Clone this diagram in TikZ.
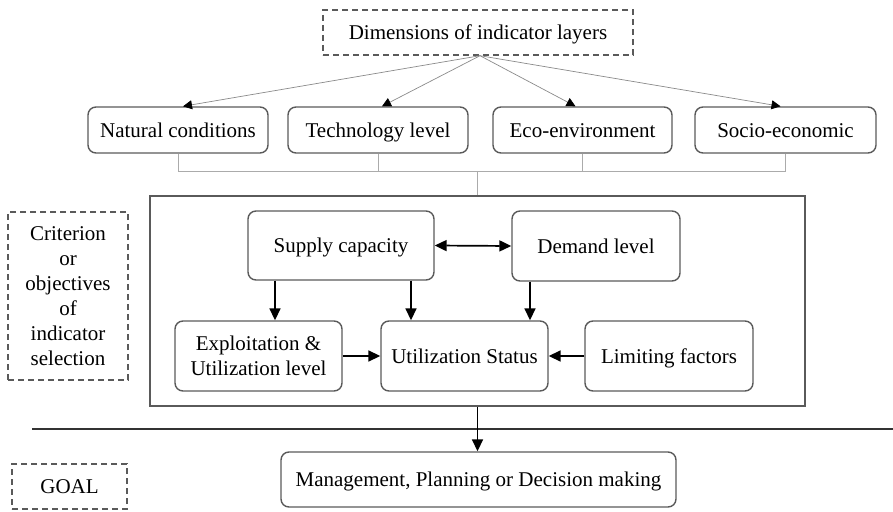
\documentclass[tikz,border=0pt]{standalone}
\usepackage{fontspec}
\setmainfont{Liberation Serif}
\usetikzlibrary{arrows.meta}
\definecolor{boxgray}{HTML}{5A5A5A}
\definecolor{conngray}{HTML}{ABABAB}
\definecolor{thingray}{HTML}{8A8A8A}
\tikzset{
  rboxm/.style={draw=boxgray, line width=1.4pt, rounded corners=8pt, inner sep=0pt, align=center,
    font=\fontsize{21}{25}\selectfont},
  rbox/.style={rboxm, text height=18pt, text depth=4pt},
  dboxm/.style={draw=boxgray, line width=1.4pt, dash pattern=on 6pt off 4pt, inner sep=0pt, align=center,
    font=\fontsize{21}{25}\selectfont},
  dbox/.style={dboxm, text height=18pt, text depth=4pt},
  framebox/.style={draw=boxgray, line width=1.5pt, inner sep=0pt},
  mainarrow/.style={draw=black, line width=1.7pt, -{Triangle[length=12pt,width=11pt]}},
  botharrow/.style={draw=black, line width=1.7pt, {Triangle[length=12pt,width=11pt]}-{Triangle[length=12pt,width=11pt]}},
  thinarrow/.style={draw=thingray, line width=0.7pt, -{Triangle[length=9pt,width=9pt,fill=black,color=black]}},
  connline/.style={draw=conngray, line width=1pt},
}
\begin{document}
\begin{tikzpicture}[x=1pt,y=-1pt]
\useasboundingbox (0,0) rectangle (893,511);
% top
\node[dbox, minimum width=310pt, minimum height=45pt] (dim) at (478,32.5) {Dimensions of indicator layers};
\node[rbox, minimum width=180pt, minimum height=46pt] (nat) at (178,130) {Natural conditions};
\node[rbox, minimum width=180pt, minimum height=46pt] (tech) at (378,130) {Technology level};
\node[rbox, minimum width=179pt, minimum height=46pt] (eco) at (582.5,130) {Eco-environment};
\node[rbox, minimum width=181pt, minimum height=46pt] (soc) at (785.5,130) {Socio-economic};
% frame
\node[framebox, minimum width=655pt, minimum height=210pt] (big) at (477.5,301) {};
\node[dboxm, minimum width=120pt, minimum height=168pt] (crit) at (68,296) {Criterion\\or\\objectives\\of\\indicator\\selection};
% inner
\node[rbox, minimum width=186pt, minimum height=69pt] (sup) at (341,245.5) {Supply capacity};
\node[rbox, minimum width=168pt, minimum height=70pt] (dem) at (596,246) {Demand level};
\node[rboxm, minimum width=167pt, minimum height=70pt] (exp) at (258.5,356) {Exploitation \&\\Utilization level};
\node[rbox, minimum width=167pt, minimum height=70pt] (uti) at (464.5,356) {Utilization Status};
\node[rbox, minimum width=168pt, minimum height=70pt] (lim) at (669,356) {Limiting factors};
% bottom
\coordinate (lineL) at (32,429);
\coordinate (lineR) at (893,429);
\draw[draw=black!80, line width=1.4pt] (lineL) -- (lineR);
\node[rbox, minimum width=395pt, minimum height=55pt] (mgt) at (478.5,479.5) {Management, Planning or Decision making};
\node[dbox, minimum width=115pt, minimum height=45pt] (goal) at (69.5,486.5) {GOAL};
% thin arrows from dim
\draw[thinarrow] ([xshift=2pt]dim.south) -- ([xshift=5pt]nat.north);
\draw[thinarrow] ([xshift=2pt]dim.south) -- ([xshift=4pt]tech.north);
\draw[thinarrow] ([xshift=2pt]dim.south) -- ([xshift=-7pt]eco.north);
\draw[thinarrow] ([xshift=2pt]dim.south) -- ([xshift=-5pt]soc.north);
% gray connectors
\coordinate (hub) at (477.5,171);
\draw[connline] (nat.south) |- (soc.south |- hub) -- (soc.south);
\draw[connline] (tech.south) -- (tech.south |- hub);
\draw[connline] (eco.south) -- (eco.south |- hub);
\draw[connline] (hub) -- (big.north);
% main arrows
\draw[botharrow] (sup.east) -- (dem.west);
\draw[mainarrow] ([xshift=-66pt]sup.south) -- ([xshift=16.5pt]exp.north);
\draw[mainarrow] ([xshift=70pt]sup.south) -- ([xshift=-53.5pt]uti.north);
\draw[mainarrow] ([xshift=-66pt]dem.south) -- ([xshift=65.5pt]uti.north);
\draw[mainarrow] (exp.east) -- (uti.west);
\draw[mainarrow] (lim.west) -- (uti.east);
\draw[mainarrow] (big.south) -- (big.south |- mgt.north);
\end{tikzpicture}
\end{document}
